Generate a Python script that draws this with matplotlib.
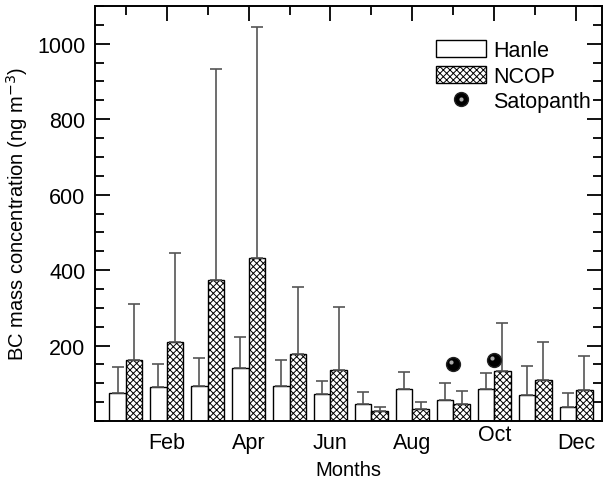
import numpy as np
import matplotlib
matplotlib.use("Agg")
import matplotlib.pyplot as plt
from matplotlib.ticker import MultipleLocator, FixedLocator
from matplotlib.transforms import offset_copy, ScaledTranslation
from matplotlib.legend_handler import HandlerTuple

plt.rcParams['font.family'] = ['Liberation Sans', 'DejaVu Sans']
plt.rcParams['hatch.linewidth'] = 0.7

# monthly BC mass concentration (ng m-3), mean and upper error
months = np.arange(1, 13)
month_labels = ["Feb", "Apr", "Jun", "Aug", "Oct", "Dec"]
hanle = [75, 91, 94, 141, 93, 72, 44, 84, 55, 84, 68, 37]
hanle_err = [67, 61, 74, 81, 68, 34, 33, 47, 46, 44, 78, 38]
ncop = [161, 210, 375, 432, 177, 134, 26, 31, 44, 133, 108, 81]
ncop_err = [150, 236, 557, 612, 178, 169, 12, 19, 35, 128, 102, 91]
sat_months = [9, 10]
satopanth = [150, 161]

fig = plt.figure(figsize=(6.07, 4.81), dpi=100)
ax = fig.add_axes([95/607, 59/481, 507/607, 415/481])

w = 0.4
err_kw = dict(ecolor="#555555", elinewidth=1.2, capsize=4, capthick=1.2)
zeros = np.zeros(12)
ax.bar(months - w/2, hanle, w, color="white", edgecolor="black", linewidth=1,
       yerr=[zeros, hanle_err], error_kw=err_kw, label="Hanle", zorder=2)
ax.bar(months + w/2, ncop, w, color="white", edgecolor="black", linewidth=1,
       hatch="xxxxx", yerr=[zeros, ncop_err], error_kw=err_kw, label="NCOP", zorder=2)

# shaded ball markers for Satopanth
ball = ax.plot(sat_months, satopanth, "o", ms=10, color="black", mec="#222222",
               linestyle="none", zorder=4)[0]
hl_tr = offset_copy(ax.transData, fig=fig, x=-1.6, y=1.6, units="points")
ax.plot(sat_months, satopanth, "o", ms=3, color="#aaaaaa", mec="none",
        transform=hl_tr, zorder=5)
hl = plt.Line2D([], [], marker="o", ms=3, color="#aaaaaa", mec="none", linestyle="none")

ax.set_xlim(0.25, 12.63)
ax.set_ylim(0, 1100)
ax.xaxis.set_major_locator(FixedLocator([2, 4, 6, 8, 10, 12]))
ax.xaxis.set_minor_locator(FixedLocator([1, 3, 5, 7, 9, 11]))
ax.set_xticklabels(month_labels)
ax.yaxis.set_major_locator(FixedLocator([200, 400, 600, 800, 1000]))
ax.yaxis.set_minor_locator(MultipleLocator(50))

ax.tick_params(which="both", direction="in", top=True, right=True,
               labelsize=15.5, width=1.3)
ax.tick_params(axis="x", pad=8)
ax.tick_params(axis="y", pad=7)
ax.tick_params(which="major", length=11)
ax.tick_params(which="minor", length=6.5)
for s in ax.spines.values():
    s.set_linewidth(1.4)

# the Oct label sits a little higher than the others
oct_lbl = ax.get_xticklabels()[4]
oct_lbl.set_transform(oct_lbl.get_transform() + ScaledTranslation(0, 8/100, fig.dpi_scale_trans))

ax.set_xlabel("Months", fontsize=14.5, labelpad=5)
ax.set_ylabel("BC mass concentration (ng m$^{-3}$)", fontsize=14.5, labelpad=5)

handles, labels = ax.get_legend_handles_labels()
leg = ax.legend(handles[:2] + [(ball, hl)], ["Hanle", "NCOP", "Satopanth"],
                handler_map={tuple: HandlerTuple(ndivide=1)},
                loc="upper right", bbox_to_anchor=(1.008, 0.955), frameon=False,
                fontsize=15.5, handlelength=2.3, handleheight=0.85,
                handletextpad=0.35, labelspacing=0.22, borderaxespad=0.3)

fig.savefig("out.png", dpi=100)
